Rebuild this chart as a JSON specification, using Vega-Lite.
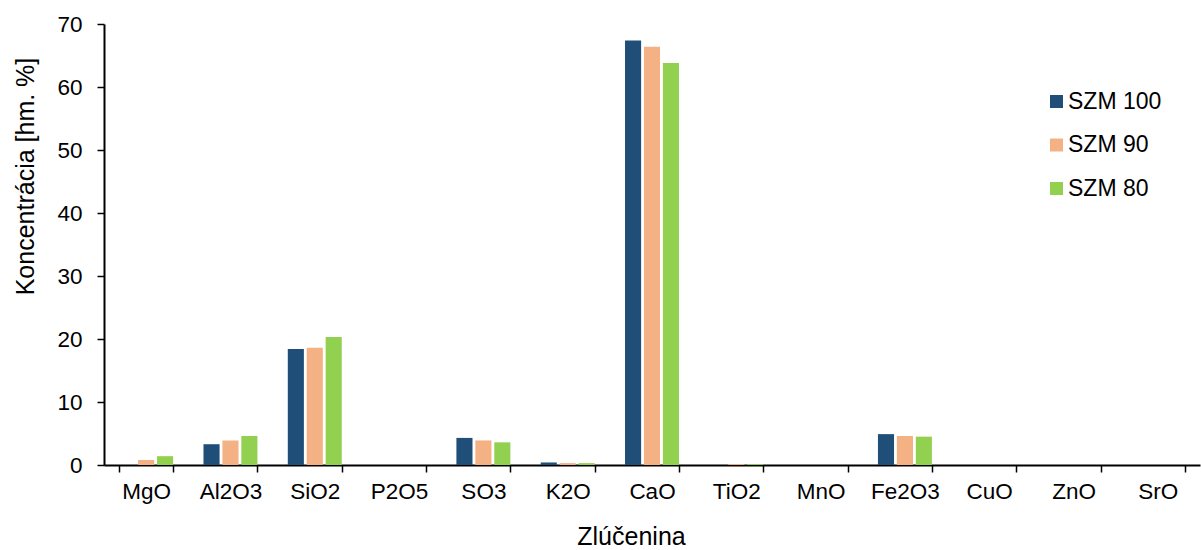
{
  "$schema": "https://vega.github.io/schema/vega-lite/v6.json",
  "width": 1096,
  "height": 441,
  "autosize": {"type": "none"},
  "padding": {"left": 104, "top": 24, "right": 1, "bottom": 85},
  "background": "white",
  "config": {
    "view": {"stroke": null},
    "font": "Liberation Sans"
  },
  "data": {
    "values": [
      {"z": "MgO", "s": "SZM 100", "v": 0},
      {"z": "MgO", "s": "SZM 90", "v": 0.8},
      {"z": "MgO", "s": "SZM 80", "v": 1.4},
      {"z": "Al2O3", "s": "SZM 100", "v": 3.3},
      {"z": "Al2O3", "s": "SZM 90", "v": 3.9},
      {"z": "Al2O3", "s": "SZM 80", "v": 4.6},
      {"z": "SiO2", "s": "SZM 100", "v": 18.4},
      {"z": "SiO2", "s": "SZM 90", "v": 18.6},
      {"z": "SiO2", "s": "SZM 80", "v": 20.3},
      {"z": "P2O5", "s": "SZM 100", "v": 0},
      {"z": "P2O5", "s": "SZM 90", "v": 0},
      {"z": "P2O5", "s": "SZM 80", "v": 0},
      {"z": "SO3", "s": "SZM 100", "v": 4.3},
      {"z": "SO3", "s": "SZM 90", "v": 3.9},
      {"z": "SO3", "s": "SZM 80", "v": 3.6},
      {"z": "K2O", "s": "SZM 100", "v": 0.4},
      {"z": "K2O", "s": "SZM 90", "v": 0.3},
      {"z": "K2O", "s": "SZM 80", "v": 0.3},
      {"z": "CaO", "s": "SZM 100", "v": 67.4},
      {"z": "CaO", "s": "SZM 90", "v": 66.4},
      {"z": "CaO", "s": "SZM 80", "v": 63.8},
      {"z": "TiO2", "s": "SZM 100", "v": 0},
      {"z": "TiO2", "s": "SZM 90", "v": 0.15},
      {"z": "TiO2", "s": "SZM 80", "v": 0.15},
      {"z": "MnO", "s": "SZM 100", "v": 0},
      {"z": "MnO", "s": "SZM 90", "v": 0},
      {"z": "MnO", "s": "SZM 80", "v": 0},
      {"z": "Fe2O3", "s": "SZM 100", "v": 4.9},
      {"z": "Fe2O3", "s": "SZM 90", "v": 4.6},
      {"z": "Fe2O3", "s": "SZM 80", "v": 4.5},
      {"z": "CuO", "s": "SZM 100", "v": 0},
      {"z": "CuO", "s": "SZM 90", "v": 0},
      {"z": "CuO", "s": "SZM 80", "v": 0},
      {"z": "ZnO", "s": "SZM 100", "v": 0},
      {"z": "ZnO", "s": "SZM 90", "v": 0},
      {"z": "ZnO", "s": "SZM 80", "v": 0},
      {"z": "SrO", "s": "SZM 100", "v": 0},
      {"z": "SrO", "s": "SZM 90", "v": 0},
      {"z": "SrO", "s": "SZM 80", "v": 0}
    ]
  },
  "mark": {"type": "bar"},
  "encoding": {
    "x": {
      "field": "z", "type": "nominal", "sort": null,
      "scale": {"paddingInner": 0.36, "paddingOuter": 0.18},
      "axis": {
        "title": "Zlúčenina", "titleFontSize": 25, "titleFontWeight": "normal", "titleColor": "black",
        "titleX": 527, "titleY": 79, "titleBaseline": "alphabetic", "titleAlign": "center",
        "labelAngle": 0, "labelFontSize": 22.5, "labelColor": "black", "labelPadding": 8,
        "tickBand": "extent", "tickColor": "black", "tickSize": 7, "tickWidth": 1.5,
        "domainColor": "black", "domainWidth": 2, "grid": false
      }
    },
    "xOffset": {
      "field": "s", "type": "nominal", "sort": ["SZM 100", "SZM 90", "SZM 80"],
      "scale": {"paddingInner": 0.15}
    },
    "y": {
      "field": "v", "type": "quantitative",
      "scale": {"domain": [0, 70], "nice": false},
      "axis": {
        "title": "Koncentrácia [hm. %]", "titleFontSize": 25, "titleFontWeight": "normal", "titleColor": "black",
        "titleX": -79, "titleY": 152, "titleBaseline": "middle", "titleAlign": "center", "titleAngle": -90,
        "values": [0, 10, 20, 30, 40, 50, 60, 70],
        "labelFontSize": 22.5, "labelColor": "black", "labelPadding": 15,
        "tickColor": "black", "tickSize": 7, "tickWidth": 1.5,
        "domainColor": "black", "domainWidth": 2, "grid": false
      }
    },
    "color": {
      "field": "s", "type": "nominal", "sort": ["SZM 100", "SZM 90", "SZM 80"],
      "scale": {"domain": ["SZM 100", "SZM 90", "SZM 80"], "range": ["#1F4E79", "#F4B183", "#92D050"]},
      "legend": {
        "title": null, "orient": "none", "legendX": 941, "legendY": 66, "padding": 0,
        "symbolType": "square", "symbolSize": 169, "symbolStrokeWidth": 0,
        "labelFontSize": 23, "labelColor": "black", "rowPadding": 19.5, "labelOffset": 0
      }
    }
  }
}
